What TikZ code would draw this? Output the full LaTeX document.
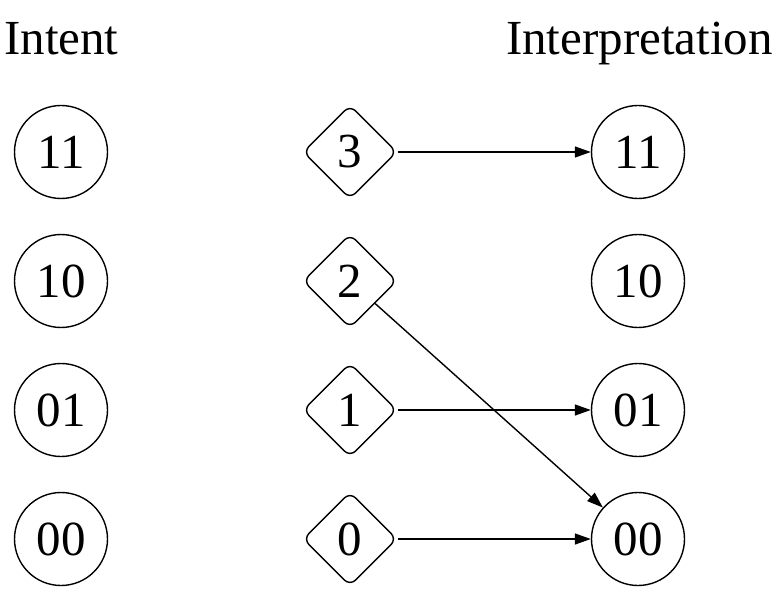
\documentclass[tikz,border=0pt]{standalone}
\usepackage{fontspec}
\setmainfont{Liberation Serif}
\usetikzlibrary{shapes.geometric,arrows.meta}
\begin{document}
\begin{tikzpicture}[x=1pt,y=1pt,
  every node/.style={font=\fontsize{49}{58}\selectfont},
  state/.style={circle,draw,line width=1.4pt,minimum size=93pt,inner sep=0pt},
  symb/.style={diamond,draw,line width=1.4pt,minimum size=94pt,inner sep=0pt,rounded corners=8pt},
  conn/.style={line width=1.4pt,-{Triangle[length=16pt,width=11pt]}}]
\useasboundingbox (0,0) rectangle (776,590);
\node[anchor=base west,inner sep=0pt] (tin) at (4,535) {Intent};
\node[anchor=base east,inner sep=0pt] (tout) at (773,535) {Interpretation};
\node[state] (a11) at (61,438) {11};
\node[state] (a10) at (61,309) {10};
\node[state] (a01) at (61,180) {01};
\node[state] (a00) at (61,51) {00};
\node[symb] (s3) at (350,438) {3};
\node[symb] (s2) at (350,309) {2};
\node[symb] (s1) at (350,180) {1};
\node[symb] (s0) at (350,51) {0};
\node[state] (b11) at (638,438) {11};
\node[state] (b10) at (638,309) {10};
\node[state] (b01) at (638,180) {01};
\node[state] (b00) at (638,51) {00};
\draw[conn] (s3) -- (b11);
\draw[conn] (s2) -- (b00);
\draw[conn] (s1) -- (b01);
\draw[conn] (s0) -- (b00);
\end{tikzpicture}
\end{document}
